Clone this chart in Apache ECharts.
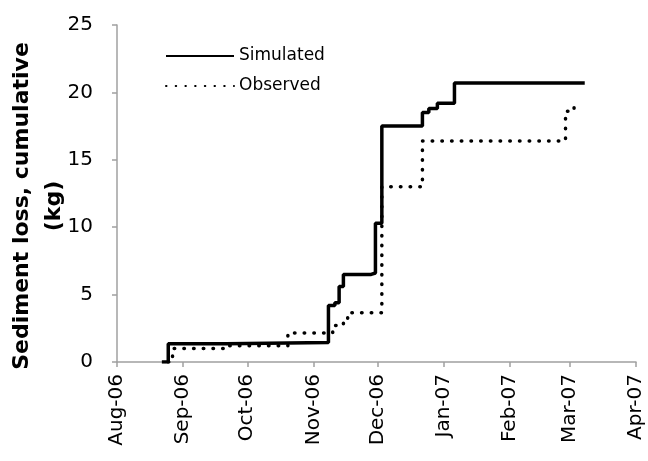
<!DOCTYPE html>
<html>
<head>
<meta charset="utf-8">
<script src="https://cdn.jsdelivr.net/npm/echarts@6/dist/echarts.min.js"></script>
<style>
  html, body { margin: 0; padding: 0; background: #fff; }
  #chart { width: 648px; height: 461px; }
</style>
</head>
<body>
<div id="chart"></div>
<script>
// simulated cumulative loss (kg), value holds from each date onward
const simDates = ['2006-08-22', '2006-08-25', '2006-09-21', '2006-11-08', '2006-11-11', '2006-11-13',
  '2006-11-15', '2006-11-28', '2006-11-30', '2006-12-03', '2006-12-22', '2006-12-25', '2006-12-29',
  '2007-01-06', '2007-03-08'];
const simValues = [0, 1.35, 1.45, 4.2, 4.4, 5.6, 6.5, 6.6, 10.3, 17.5, 18.5, 18.8, 19.2, 20.7, 20.7];

// observed cumulative loss (kg)
const obsDates = ['2006-08-25', '2006-08-27', '2006-09-20', '2006-10-20', '2006-11-10', '2006-11-15',
  '2006-11-17', '2006-12-03', '2006-12-22', '2007-02-27', '2007-03-03', '2007-03-04'];
const obsValues = [0, 1.0, 1.2, 2.15, 2.7, 3.0, 3.65, 13.0, 16.4, 18.6, 18.9, 18.9];

// month ticks on the x axis
const monthDates = ['2006-08-01', '2006-09-01', '2006-10-01', '2006-11-01', '2006-12-01',
  '2007-01-01', '2007-02-01', '2007-03-01', '2007-04-01'];
const monthLabels = ['Aug-06', 'Sep-06', 'Oct-06', 'Nov-06', 'Dec-06', 'Jan-07', 'Feb-07', 'Mar-07', 'Apr-07'];

const yTitle = 'Sediment loss, cumulative\n(kg)'

// dates -> timestamps, the x axis is a plain value axis in ms
function ts(s) {
  let p = s.split('-').map(Number)
  return Date.UTC(p[0], p[1] - 1, p[2])
}

const monthTs = monthDates.map(ts)
const FONT = 'DejaVu Sans'
const AXIS_GRAY = '#a0a0a0'

let chart = echarts.init(document.getElementById('chart'), null, { renderer: 'canvas' })

let option = {
  backgroundColor: '#fff',
  animation: false,
  grid: { left: 117, right: 12, top: 25, bottom: 99, containLabel: false, outerBoundsMode: 'none' },
  legend: {
    orient: 'vertical',
    left: 160,
    top: 41,
    itemWidth: 68,
    itemHeight: 14,
    itemGap: 10,
    itemStyle: { color: 'transparent', borderWidth: 0 },
    textStyle: { fontFamily: FONT, fontSize: 17, color: '#000', lineHeight: 20 },
    data: ['Simulated', 'Observed']
  },
  // y axis title, placed by hand so it sits a bit below the axis middle like the original
  graphic: [{
    type: 'text',
    x: 38,
    y: 206,
    rotation: Math.PI / 2,
    style: {
      text: yTitle,
      fontFamily: FONT,
      fontSize: 22,
      fontWeight: 'bold',
      fill: '#000',
      lineHeight: 32,
      align: 'center',
      verticalAlign: 'middle'
    }
  }],
  xAxis: {
    type: 'value',
    min: monthTs[0],
    max: monthTs[monthTs.length - 1],
    axisLine: { lineStyle: { color: AXIS_GRAY, width: 1.5 } },
    axisTick: { show: true, length: 5, lineStyle: { color: AXIS_GRAY, width: 1.5 }, customValues: monthTs },
    splitLine: { show: false },
    axisLabel: {
      rotate: 90,
      margin: 12,
      fontFamily: FONT,
      fontSize: 20,
      color: '#000',
      customValues: monthTs,
      formatter: function (v) {
        let i = monthTs.indexOf(v)
        return i >= 0 ? monthLabels[i] : ''
      }
    }
  },
  yAxis: {
    type: 'value',
    min: 0,
    max: 25,
    interval: 5,
    axisLine: { show: true, lineStyle: { color: AXIS_GRAY, width: 1.5 } },
    axisTick: { show: true, length: 5, lineStyle: { color: AXIS_GRAY, width: 1.5 } },
    splitLine: { show: false },
    axisLabel: { margin: 24, fontFamily: FONT, fontSize: 20, color: '#000' }
  },
  series: [
    {
      name: 'Simulated',
      type: 'line',
      step: 'end',
      symbol: 'none',
      color: '#000',
      lineStyle: { color: '#000', width: 3.5 },
      data: simDates.map((d, i) => [ts(d), simValues[i]]),
      z: 3
    },
    {
      name: 'Observed',
      type: 'line',
      step: 'end',
      symbol: 'none',
      color: '#000',
      lineStyle: { color: '#000', width: 3.5, type: [0.5, 9.2], cap: 'round' },
      data: obsDates.map((d, i) => [ts(d), obsValues[i]]),
      z: 2
    }
  ]
}

chart.setOption(option)
</script>
</body>
</html>
